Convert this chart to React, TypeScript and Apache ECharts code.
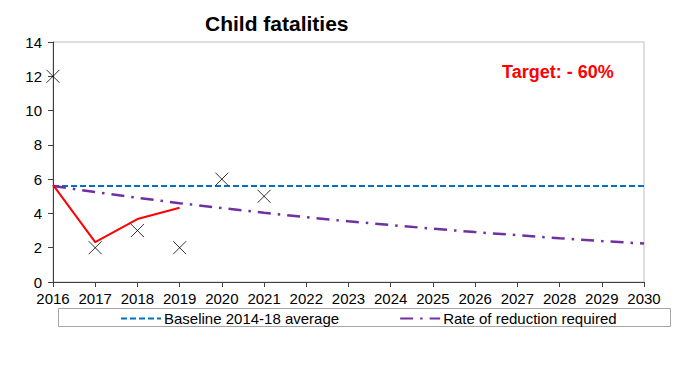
import React, { useEffect, useRef } from "react";
import * as echarts from "echarts";

const years = ["2016","2017","2018","2019","2020","2021","2022","2023","2024","2025","2026","2027","2028","2029","2030"];
const actual: (number | null)[] = [12, 2, 3, 2, 6, 5, null, null, null, null, null, null, null, null, null];
const rollingAvg: (number | null)[] = [5.67, 2.33, 3.67, 4.33, null, null, null, null, null, null, null, null, null, null, null];
const baseline: number[] = [5.6, 5.6, 5.6, 5.6, 5.6, 5.6, 5.6, 5.6, 5.6, 5.6, 5.6, 5.6, 5.6, 5.6, 5.6];
const reduction: number[] = [5.6, 5.25, 4.91, 4.6, 4.31, 4.04, 3.78, 3.54, 3.32, 3.11, 2.91, 2.73, 2.55, 2.39, 2.24];
const yTicks = { min: 0, max: 14, interval: 2 };

const FONT = "'Liberation Sans', Arial, sans-serif";

export default function App() {
  const ref = useRef<HTMLDivElement>(null);
  useEffect(() => {
    if (!ref.current) return;
    const chart = echarts.init(ref.current, undefined, { renderer: "svg" });
    chart.setOption({
      animation: false,
      textStyle: { fontFamily: FONT },
      title: {
        text: "Child fatalities",
        left: 205,
        top: 13,
        padding: 0,
        textStyle: { fontSize: 21, fontWeight: "bold", color: "#000", fontFamily: FONT },
      },
      grid: { left: 53, right: 40, top: 42, bottom: 83, show: true, borderColor: "#bfbfbf", borderWidth: 1, backgroundColor: "transparent" },
      xAxis: {
        type: "category",
        data: years,
        boundaryGap: false,
        axisLine: { lineStyle: { color: "#404040", width: 1 } },
        axisTick: { show: true, length: 5, interval: 0, lineStyle: { color: "#404040" } },
        axisLabel: { interval: 0, fontSize: 15, color: "#000", margin: 9, fontFamily: FONT },
        splitLine: { show: false },
      },
      yAxis: {
        type: "value",
        min: yTicks.min,
        max: yTicks.max,
        interval: yTicks.interval,
        axisLine: { show: true, lineStyle: { color: "#404040", width: 1 } },
        axisTick: { show: true, length: 5, lineStyle: { color: "#404040" } },
        axisLabel: { fontSize: 15, color: "#000", margin: 11, fontFamily: FONT },
        splitLine: { show: false },
      },
      legend: {
        data: ["Baseline 2014-18 average", "Rate of reduction required"],
        left: 120,
        top: 311,
        padding: 0,
        itemWidth: 40,
        itemHeight: 14,
        itemGap: 60,
        itemStyle: { color: "transparent", borderWidth: 0, opacity: 0 },
        textStyle: { fontSize: 15, color: "#000", fontFamily: FONT, padding: [0, 0, 0, -2] },
      },
      graphic: [
        {
          type: "rect",
          shape: { x: 58.5, y: 308.5, width: 612, height: 18 },
          style: { fill: "none", stroke: "#a6a6a6", lineWidth: 1 },
          silent: true,
          z: -1,
        },
        {
          type: "text",
          left: 502,
          top: 63,
          style: { text: "Target: - 60%", fill: "#ff0000", fontSize: 18, fontWeight: "bold", fontFamily: FONT },
        },
      ],
      series: [
        {
          name: "Baseline 2014-18 average",
          type: "line",
          data: baseline,
          symbol: "none",
          lineStyle: { color: "#0070c0", width: 2, type: [6, 3] },
          itemStyle: { color: "#0070c0" },
          z: 2,
        },
        {
          name: "Rate of reduction required",
          type: "line",
          data: reduction,
          symbol: "none",
          smooth: false,
          lineStyle: { color: "#7030a0", width: 2.5, type: [13, 7, 2.5, 7] },
          itemStyle: { color: "#7030a0" },
          z: 3,
        },
        {
          name: "Rolling average",
          type: "line",
          data: rollingAvg,
          symbol: "none",
          lineStyle: { color: "#ff0000", width: 2 },
          itemStyle: { color: "#ff0000" },
          z: 4,
        },
        {
          name: "Actual",
          type: "scatter",
          data: actual,
          symbol: "path://M0,0L10,10M10,0L0,10",
          symbolSize: 13,
          clip: false,
          itemStyle: { color: "none", borderColor: "#000", borderWidth: 1 },
          z: 5,
        },
      ],
    });
    return () => chart.dispose();
  }, []);
  return <div ref={ref} style={{ width: 684, height: 365, margin: -8 }} />;
}
